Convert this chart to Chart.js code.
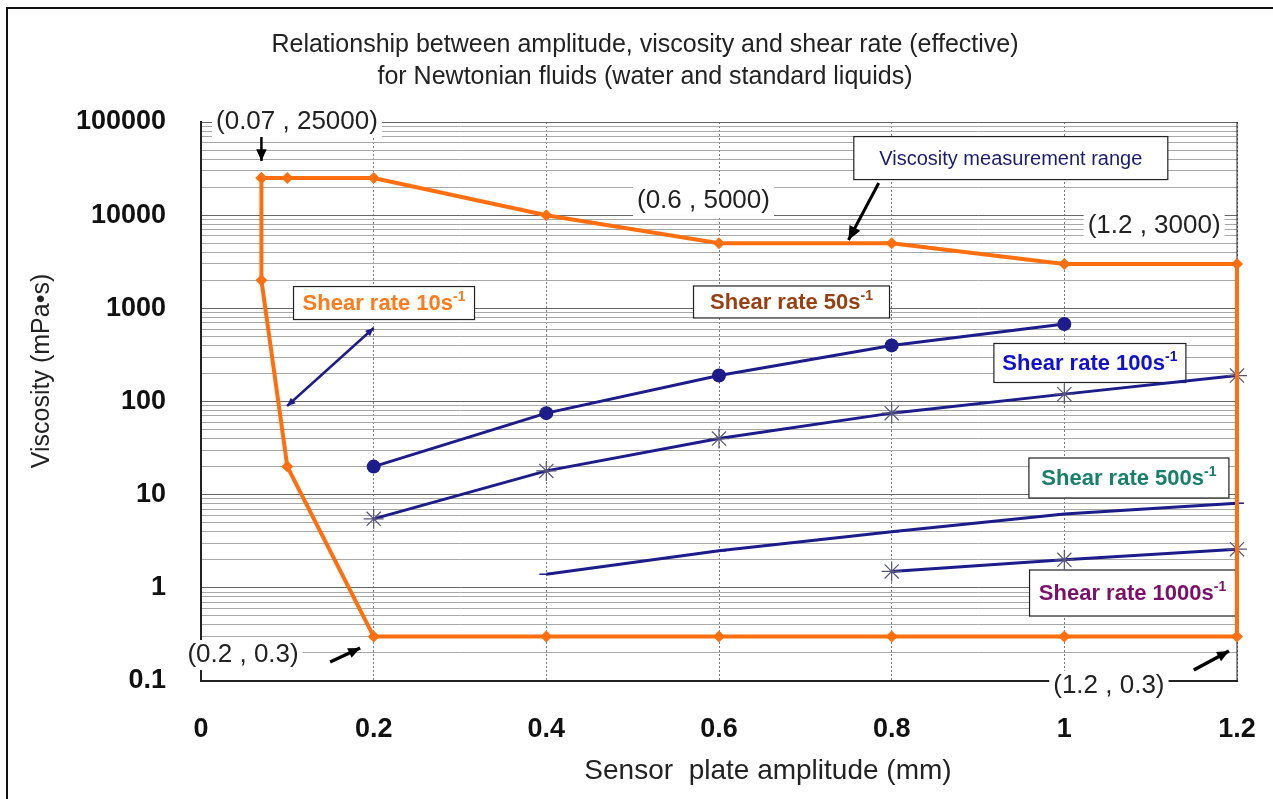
<!DOCTYPE html>
<html>
<head>
<meta charset="utf-8">
<title>Viscosity measurement range</title>
<script src="https://cdn.jsdelivr.net/npm/chart.js@4.4.0/dist/chart.umd.min.js"></script>
<style>
    html, body { margin: 0; padding: 0; background: #fff; }
    #wrap { width: 1273px; height: 799px; position: relative; }
</style>
</head>
<body>
<div id="wrap"><canvas id="viscChart"></canvas></div>
<script>
// 1. 데이터
// 측정 가능 범위 (주황색 다각형)
const rangeX = [0.07, 0.1, 0.2, 0.4, 0.6, 0.8, 1.0, 1.2, 1.2, 1.0, 0.8, 0.6, 0.4, 0.2, 0.1, 0.07, 0.07];
const rangeY = [25000, 25000, 25000, 10000, 5000, 5000, 3000, 3000, 0.3, 0.3, 0.3, 0.3, 0.3, 0.3, 20, 2000, 25000];

// 전단속도별 곡선
const circleX = [0.2, 0.4, 0.6, 0.8, 1.0];
const circleY = [20, 75, 190, 400, 680];
const starX = [0.2, 0.4, 0.6, 0.8, 1.0, 1.2];
const starY = [5.5, 18, 40, 75, 120, 190];
const dashX = [0.4, 0.6, 0.8, 1.0, 1.2];
const dashY = [1.4, 2.5, 4, 6.2, 8.1];
const star2X = [0.8, 1.0, 1.2];
const star2Y = [1.5, 2.0, 2.6];

// 축 눈금
const xTicks = [0, 0.2, 0.4, 0.6, 0.8, 1.0, 1.2];
const xLabels = ['0', '0.2', '0.4', '0.6', '0.8', '1', '1.2'];
const yDecades = [0.1, 1, 10, 100, 1000, 10000, 100000];
const yLabels = ['0.1', '1', '10', '100', '1000', '10000', '100000'];

const FONT = '"Liberation Sans", Arial, sans-serif';
const ORANGE = '#ff6f10';
const NAVY = '#1c1c8a';

const toPoints = (xs, ys) => xs.map((x, i) => ({ x: x, y: ys[i] }));

// 로그축 보조 눈금: 1~9 × 10^n
const yTickValues = [];
for (let d = 0; d < yDecades.length - 1; d++) {
    for (let m = 1; m < 10; m++) yTickValues.push(yDecades[d] * m);
}
yTickValues.push(yDecades[yDecades.length - 1]);
const isDecade = v => yDecades.some(d => Math.abs(v - d) < d * 1e-6);

// 2. 주석 (텍스트 상자, 좌표 라벨, 화살표) - 데이터 좌표 기준
const boxLabels = [
    { text: 'Shear rate 10s', sup: '-1', x: 0.212, y: 1140, w: 181, h: 33, color: '#ff7a1a', bold: true },
    { text: 'Shear rate 50s', sup: '-1', x: 0.684, y: 1170, w: 196, h: 32, color: '#993f12', bold: true },
    { text: 'Shear rate 100s', sup: '-1', x: 1.0296, y: 259, w: 192, h: 39, color: '#1010d0', bold: true },
    { text: 'Shear rate 500s', sup: '-1', x: 1.0748, y: 15.1, w: 200, h: 40, color: '#17806a', bold: true },
    { text: 'Shear rate 1000s', sup: '-1', x: 1.079, y: 0.88, w: 206, h: 46, color: '#7d0f6a', bold: true },
    { text: 'Viscosity measurement range', sup: '', x: 0.938, y: 41000, w: 314, h: 43, color: '#1c1c70', bold: false, size: 20 }
];
const pointLabels = [
    { text: '(0.07 , 25000)', x: 0.0174, y: 100000, align: 'left' },
    { text: '(0.6 , 5000)', x: 0.582, y: 14200, align: 'center' },
    { text: '(1.2 , 3000)', x: 1.104, y: 7650, align: 'center' },
    { text: '(0.2 , 0.3)', x: 0.0487, y: 0.19, align: 'center' },
    { text: '(1.2 , 0.3)', x: 1.0516, y: 0.0885, align: 'center' }
];
const arrows = [
    { x1: 0.07, y1: 69000, x2: 0.07, y2: 38100, color: '#000', width: 2.5, head: 13, both: false },
    { x1: 0.785, y1: 22150, x2: 0.750, y2: 5410, color: '#000', width: 3, head: 15, both: false },
    { x1: 0.1496, y1: 0.16, x2: 0.1843, y2: 0.226, color: '#000', width: 3.5, head: 13, both: false },
    { x1: 1.150, y1: 0.131, x2: 1.1907, y2: 0.21, color: '#000', width: 3.5, head: 13, both: false },
    { x1: 0.2, y1: 615, x2: 0.0997, y2: 89.5, color: NAVY, width: 2.5, head: 9, both: true }
];

function drawRichText(ctx, main, sup, cx, cy, size, weight, color) {
    ctx.font = weight + ' ' + size + 'px ' + FONT;
    const w1 = ctx.measureText(main).width;
    const small = weight + ' ' + Math.round(size * 0.62) + 'px ' + FONT;
    ctx.font = small;
    const w2 = sup ? ctx.measureText(sup).width : 0;
    const sx = cx - (w1 + w2) / 2;
    ctx.fillStyle = color;
    ctx.textAlign = 'left';
    ctx.textBaseline = 'middle';
    ctx.font = weight + ' ' + size + 'px ' + FONT;
    ctx.fillText(main, sx, cy);
    if (sup) {
        ctx.font = small;
        ctx.fillText(sup, sx + w1, cy - size * 0.33);
    }
}

function drawHead(ctx, x1, y1, x2, y2, len) {
    const a = Math.atan2(y2 - y1, x2 - x1);
    ctx.beginPath();
    ctx.moveTo(x2, y2);
    ctx.lineTo(x2 - len * Math.cos(a - 0.42), y2 - len * Math.sin(a - 0.42));
    ctx.lineTo(x2 - len * Math.cos(a + 0.42), y2 - len * Math.sin(a + 0.42));
    ctx.closePath();
    ctx.fill();
}

const annotationPlugin = {
    id: 'annotations',
    beforeDatasetsDraw(chart) {
        const { ctx, chartArea, scales: { x, y } } = chart;
        ctx.save();
        // 오른쪽 테두리
        ctx.strokeStyle = '#222';
        ctx.lineWidth = 1;
        ctx.beginPath();
        ctx.moveTo(chartArea.right, chartArea.top);
        ctx.lineTo(chartArea.right, chartArea.bottom);
        ctx.stroke();
        // 좌표 라벨 (흰 배경)
        pointLabels.forEach(p => {
            const px = x.getPixelForValue(p.x);
            const py = y.getPixelForValue(p.y);
            ctx.font = '26px ' + FONT;
            const w = ctx.measureText(p.text).width;
            const left = p.align === 'left' ? px : px - w / 2;
            ctx.fillStyle = '#fff';
            ctx.fillRect(left - 4, py - 15, w + 8, 30);
            ctx.fillStyle = '#222';
            ctx.textAlign = 'left';
            ctx.textBaseline = 'middle';
            ctx.fillText(p.text, left, py);
        });
        // 텍스트 상자
        boxLabels.forEach(b => {
            const cx = x.getPixelForValue(b.x);
            const cy = y.getPixelForValue(b.y);
            ctx.fillStyle = '#fff';
            ctx.fillRect(cx - b.w / 2, cy - b.h / 2, b.w, b.h);
            ctx.strokeStyle = '#222';
            ctx.lineWidth = 1.2;
            ctx.strokeRect(cx - b.w / 2, cy - b.h / 2, b.w, b.h);
            drawRichText(ctx, b.text, b.sup, cx, cy + 1, b.size || 22, b.bold ? 'bold' : 'normal', b.color);
        });
        ctx.restore();
    },
    afterDatasetsDraw(chart) {
        const { ctx, scales: { x, y } } = chart;
        ctx.save();
        arrows.forEach(a => {
            const x1 = x.getPixelForValue(a.x1), y1 = y.getPixelForValue(a.y1);
            const x2 = x.getPixelForValue(a.x2), y2 = y.getPixelForValue(a.y2);
            ctx.strokeStyle = a.color;
            ctx.fillStyle = a.color;
            ctx.lineWidth = a.width;
            ctx.beginPath();
            ctx.moveTo(x1, y1);
            ctx.lineTo(x2, y2);
            ctx.stroke();
            drawHead(ctx, x1, y1, x2, y2, a.head);
            if (a.both) drawHead(ctx, x2, y2, x1, y1, a.head);
        });
        ctx.restore();
    },
    afterDraw(chart) {
        const { ctx } = chart;
        ctx.save();
        // 제목
        ctx.fillStyle = '#222';
        ctx.textAlign = 'center';
        ctx.textBaseline = 'middle';
        ctx.font = '25px ' + FONT;
        ctx.fillText('Relationship between amplitude, viscosity and shear rate (effective)', 645, 45);
        ctx.fillText('for Newtonian fluids (water and standard liquids)', 645, 77);
        // 축 제목
        ctx.font = '28px ' + FONT;
        ctx.fillText('Sensor  plate amplitude (mm)', 768, 771);
        ctx.font = '25px ' + FONT;
        ctx.translate(42, 371);
        ctx.rotate(-Math.PI / 2);
        ctx.fillText('Viscosity (mPa\u2022s)', 0, 0);
        ctx.restore();
        // 바깥 테두리 (위, 왼쪽)
        ctx.save();
        ctx.strokeStyle = '#111';
        ctx.lineWidth = 2;
        ctx.beginPath();
        ctx.moveTo(1273, 8);
        ctx.lineTo(7, 8);
        ctx.lineTo(7, 799);
        ctx.stroke();
        ctx.restore();
    }
};

// 3. 차트 생성
const ctx1 = document.getElementById('viscChart').getContext('2d');
new Chart(ctx1, {
    type: 'scatter',
    data: {
        datasets: [
            {
                label: 'Viscosity measurement range',
                data: toPoints(rangeX, rangeY),
                showLine: true,
                borderColor: ORANGE,
                borderWidth: 4,
                backgroundColor: ORANGE,
                pointStyle: 'rectRot',
                pointRadius: 6,
                pointBorderWidth: 0,
                clip: false
            },
            {
                label: 'circle',
                data: toPoints(circleX, circleY),
                showLine: true,
                borderColor: NAVY,
                borderWidth: 3,
                backgroundColor: NAVY,
                pointStyle: 'circle',
                pointRadius: 7,
                pointBorderWidth: 0,
                clip: false
            },
            {
                label: 'star',
                data: toPoints(starX, starY),
                showLine: true,
                borderColor: NAVY,
                borderWidth: 3,
                pointBorderColor: '#55557a',
                pointStyle: 'star',
                pointRadius: 10,
                pointBorderWidth: 1.2,
                clip: false
            },
            {
                label: 'dash',
                data: toPoints(dashX, dashY),
                showLine: true,
                borderColor: NAVY,
                borderWidth: 3,
                pointBorderColor: NAVY,
                pointStyle: 'line',
                pointRadius: 7,
                pointBorderWidth: 1.5,
                clip: false
            },
            {
                label: 'star2',
                data: toPoints(star2X, star2Y),
                showLine: true,
                borderColor: NAVY,
                borderWidth: 3,
                pointBorderColor: '#55557a',
                pointStyle: 'star',
                pointRadius: 10,
                pointBorderWidth: 1.2,
                clip: false
            }
        ]
    },
    options: {
        responsive: true,
        maintainAspectRatio: false,
        animation: false,
        layout: { padding: { left: 10, right: 36, top: 122, bottom: 0 } },
        plugins: {
            legend: { display: false },
            tooltip: { enabled: false },
            title: { display: false }
        },
        elements: { line: { tension: 0 } },
        scales: {
            x: {
                type: 'linear',
                min: 0,
                max: 1.2,
                afterBuildTicks: scale => { scale.ticks = xTicks.map(v => ({ value: v })); },
                afterFit: scale => {
                    scale.height = 118;
                    // 눈금 라벨 여백이 플롯 영역을 줄이지 않도록
                    scale.paddingLeft = 0;
                    scale.paddingRight = 0;
                },
                ticks: {
                    padding: 32,
                    color: '#111',
                    font: { family: FONT, size: 27, weight: 'bold' },
                    callback: (value, index) => xLabels[index]
                },
                grid: {
                    drawTicks: false,
                    color: c => (c.tick && c.tick.value === 0) ? 'rgba(0,0,0,0)' : '#777',
                    lineWidth: 1
                },
                border: { display: true, color: '#222', width: 2, dash: [2, 2] }
            },
            y: {
                type: 'logarithmic',
                min: 0.1,
                max: 100000,
                afterBuildTicks: scale => { scale.ticks = yTickValues.map(v => ({ value: v })); },
                afterFit: scale => { scale.width = 191; },
                ticks: {
                    autoSkip: false,
                    padding: 35,
                    color: '#111',
                    font: { family: FONT, size: 27, weight: 'bold' },
                    callback: value => {
                        const i = yDecades.findIndex(d => Math.abs(value - d) < d * 1e-6);
                        return i >= 0 ? yLabels[i] : '';
                    }
                },
                grid: {
                    drawTicks: false,
                    color: c => (c.tick && isDecade(c.tick.value)) ? '#666' : '#a8a8a8',
                    lineWidth: 1
                },
                border: { display: true, color: '#222', width: 2 }
            }
        }
    },
    plugins: [annotationPlugin]
});
</script>
</body>
</html>
